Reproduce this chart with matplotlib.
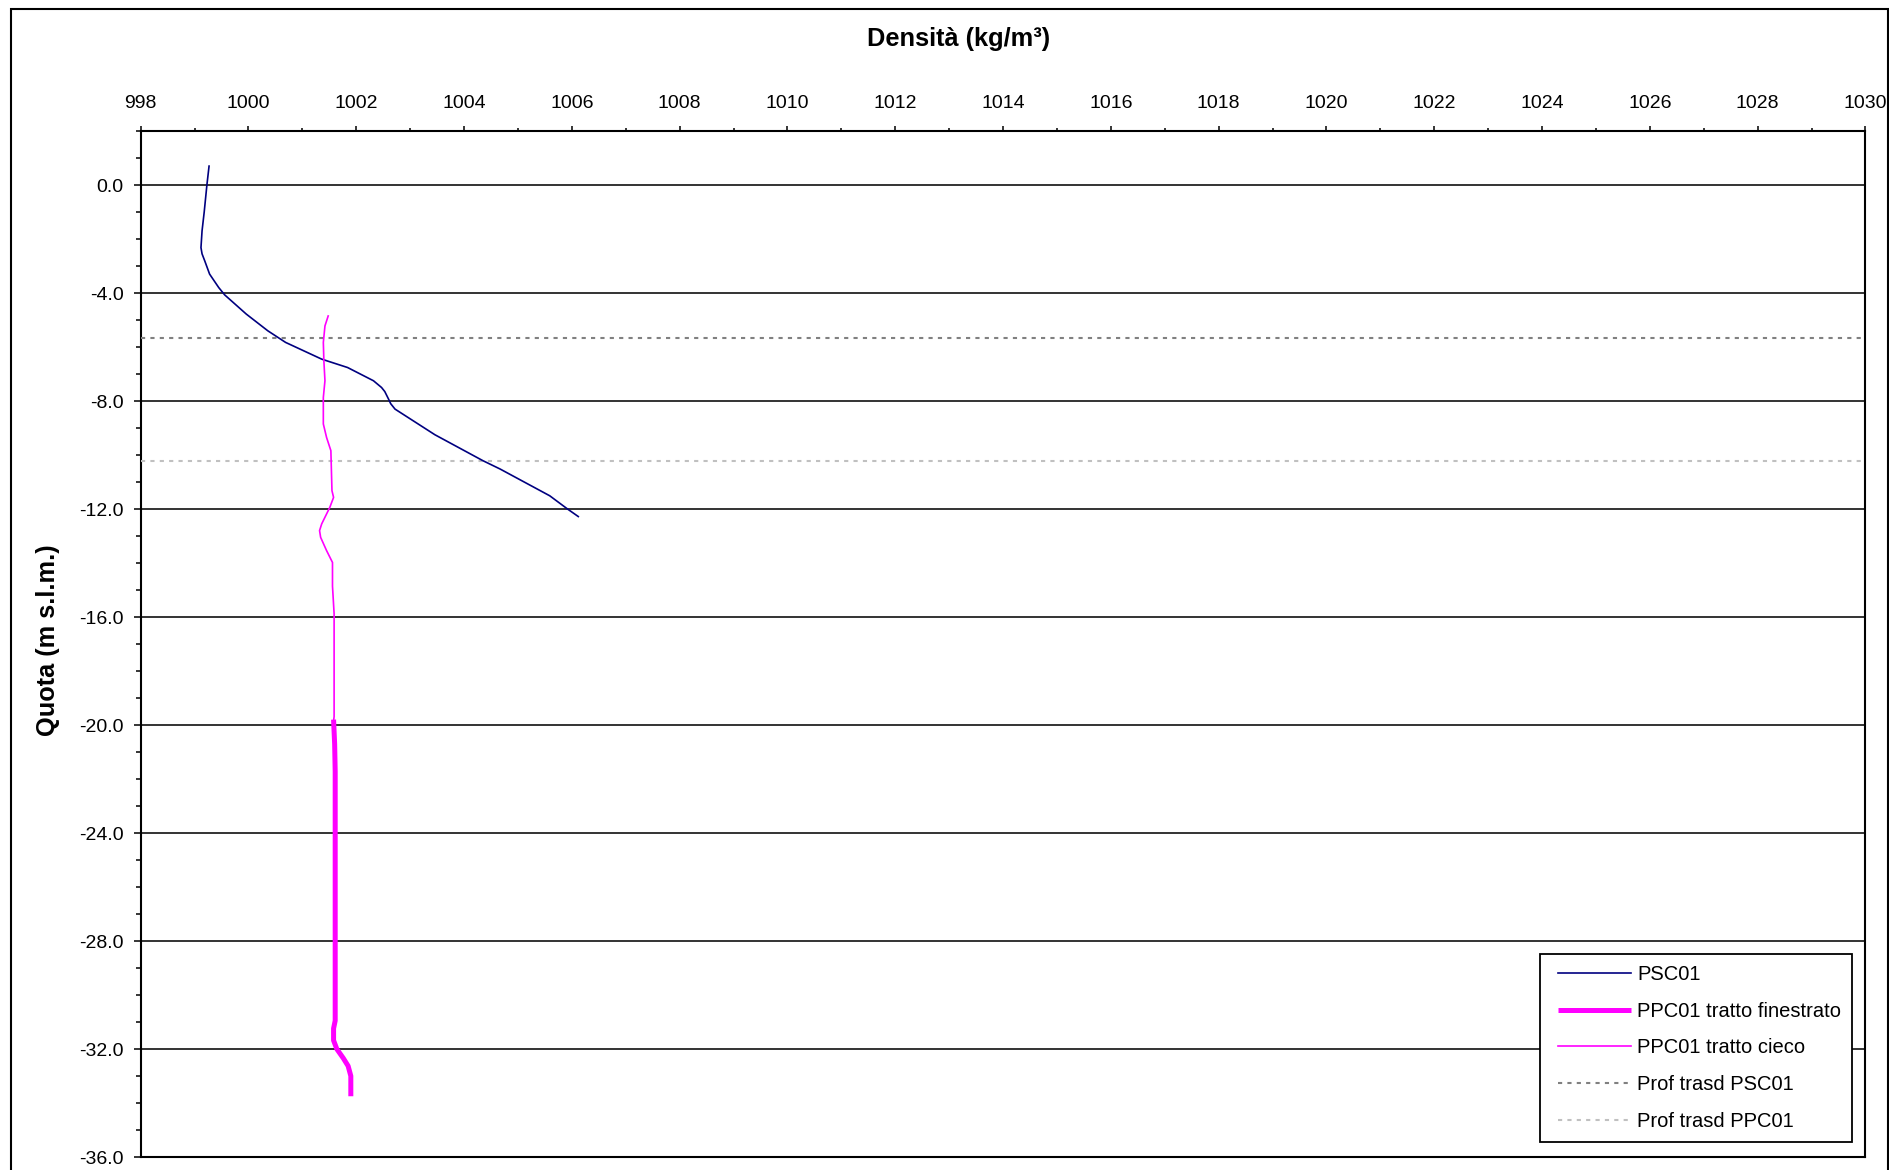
import matplotlib
matplotlib.use("Agg")
import numpy as np
import matplotlib.pyplot as plt
from matplotlib.ticker import MultipleLocator, FormatStrFormatter
from matplotlib.patches import Rectangle
from matplotlib.legend_handler import HandlerLine2D
from matplotlib.lines import Line2D

plt.rcParams['font.family'] = ['Liberation Sans', 'DejaVu Sans']

# --- data -------------------------------------------------------------
psc01_quota = [0.70, 0.0, -1.0, -1.70, -2.32, -2.55, -2.81, -3.30, -3.80, -4.07,
               -4.78, -5.40, -5.83, -6.45, -6.76, -7.25, -7.50, -7.65, -7.93,
               -8.10, -8.30, -9.25, -10.21, -10.52, -11.51, -12.0, -12.28]
psc01_density = [999.27, 999.23, 999.18, 999.14, 999.12, 999.14, 999.19, 999.28,
                 999.45, 999.56, 999.96, 1000.36, 1000.69, 1001.36, 1001.84,
                 1002.32, 1002.47, 1002.53, 1002.60, 1002.64, 1002.72, 1003.46,
                 1004.35, 1004.67, 1005.59, 1005.92, 1006.12]

cieco_quota = [-4.85, -5.22, -5.83, -6.51, -7.25, -7.87, -8.85, -9.35, -9.84,
               -11.32, -11.57, -11.94, -12.55, -12.80, -13.05, -13.54, -13.98,
               -14.86, -15.88, -19.69, -19.85]
cieco_density = [1001.48, 1001.42, 1001.39, 1001.40, 1001.42, 1001.39, 1001.39,
                 1001.45, 1001.53, 1001.55, 1001.58, 1001.51, 1001.36, 1001.32,
                 1001.34, 1001.45, 1001.56, 1001.56, 1001.59, 1001.59, 1001.58]

finestrato_quota = [-19.80, -20.71, -21.73, -30.95, -31.24, -31.68, -32.00,
                    -32.34, -32.63, -33.0, -33.75]
finestrato_density = [1001.58, 1001.60, 1001.61, 1001.61, 1001.58, 1001.58,
                      1001.64, 1001.76, 1001.85, 1001.90, 1001.90]

prof_trasd_psc01 = -5.65
prof_trasd_ppc01 = -10.24

labels = ["PSC01", "PPC01 tratto finestrato", "PPC01 tratto cieco",
          "Prof trasd PSC01", "Prof trasd PPC01"]


class IndentedLineHandler(HandlerLine2D):
    """Line handler that leaves a small blank margin before the sample line."""

    def __init__(self, indent=5.0, **kw):
        super().__init__(**kw)
        self.indent = indent

    def create_artists(self, legend, orig_handle, xdescent, ydescent, width,
                       height, fontsize, trans):
        artists = super().create_artists(legend, orig_handle, xdescent, ydescent,
                                         width, height, fontsize, trans)
        for a in artists:
            if isinstance(a, Line2D):
                x = np.asarray(a.get_xdata(), dtype=float).copy()
                if x.size >= 2:
                    x[0] += self.indent
                    a.set_xdata(x)
        return artists


# --- figure -----------------------------------------------------------
W, H = 1890, 1170
fig = plt.figure(figsize=(W / 100, H / 100), dpi=100)
fig.patch.set_facecolor('white')

# chart border
fig.patches.append(Rectangle((11 / W, -0.05), (1888 - 11) / W, 1 - 9 / H + 0.05,
                             transform=fig.transFigure, fill=False,
                             edgecolor='black', linewidth=1.5, zorder=0))

left, right, top, bottom = 140.6, 1865.5, 131, 1157
ax = fig.add_axes([left / W, 1 - bottom / H, (right - left) / W, (bottom - top) / H])

h_psc, = ax.plot(psc01_density, psc01_quota, color='#000080', lw=1.2,
                 solid_joinstyle='round', zorder=4)
h_fin, = ax.plot(finestrato_density, finestrato_quota, color='#FF00FF', lw=3.6,
                 solid_capstyle='butt', zorder=4)
h_cie, = ax.plot(cieco_density, cieco_quota, color='#FF00FF', lw=1.2,
                 solid_joinstyle='round', zorder=4)
h_t1 = ax.axhline(prof_trasd_psc01, color='#808080', lw=1.5, dashes=(2, 2.5), zorder=3)
h_t2 = ax.axhline(prof_trasd_ppc01, color='#C0C0C0', lw=1.5, dashes=(2, 2.5), zorder=3)

ax.set_xlim(998, 1030)
ax.set_ylim(-36, 2)

ax.xaxis.tick_top()
ax.xaxis.set_major_locator(MultipleLocator(2))
ax.xaxis.set_minor_locator(MultipleLocator(1))
ax.xaxis.set_major_formatter(FormatStrFormatter('%d'))
ax.yaxis.set_major_locator(MultipleLocator(4))
ax.yaxis.set_minor_locator(MultipleLocator(1))
ax.yaxis.set_major_formatter(FormatStrFormatter('%.1f'))

ax.tick_params(axis='x', which='major', direction='out', length=3.6, width=1.1,
               labelsize=14, pad=10.2)
ax.tick_params(axis='x', which='minor', direction='out', length=2.2, width=1.1)
ax.tick_params(axis='y', which='major', direction='out', length=5.4, width=1.1,
               labelsize=14, pad=6.8)
ax.tick_params(axis='y', which='minor', direction='out', length=3.6, width=1.1)

ax.yaxis.grid(True, which='major', color='#111111', lw=1.2, zorder=1)
ax.set_axisbelow(True)
for s in ax.spines.values():
    s.set_linewidth(1.5)
    s.set_color('black')

fig.text(958.7 / W, 1 - 39 / H, "Densità (kg/m³)", ha='center', va='center',
         fontsize=18.3, fontweight='bold')
fig.text(48 / W, 1 - 640 / H, "Quota (m s.l.m.)", ha='center', va='center',
         rotation=90, fontsize=18.3, fontweight='bold')

handler = IndentedLineHandler(indent=5.0)
leg = ax.legend([h_psc, h_fin, h_cie, h_t1, h_t2], labels,
                loc='lower right', bbox_to_anchor=(1852 / W, 1 - 1142 / H),
                bbox_transform=fig.transFigure, fontsize=14.5, frameon=True,
                fancybox=False, shadow=False, framealpha=1, edgecolor='black',
                borderpad=0.55, handlelength=3.96, handletextpad=0.30,
                labelspacing=0.88, borderaxespad=0,
                handler_map={h_psc: handler, h_fin: handler, h_cie: handler,
                             h_t1: handler, h_t2: handler})
leg.get_frame().set_linewidth(1.3)

fig.savefig("out.png", dpi=100, facecolor='white')
